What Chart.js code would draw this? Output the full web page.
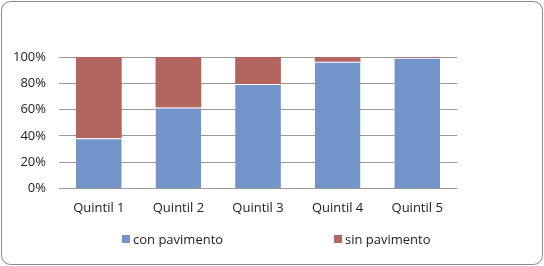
<!DOCTYPE html>
<html>
<head>
<meta charset="utf-8">
<script src="https://cdn.jsdelivr.net/npm/chart.js@4"></script>
<style>
  body { margin: 0; background: #fff; }
  #wrap { width: 544px; height: 266px; position: relative; }
</style>
</head>
<body>
<div id="wrap"><canvas id="grafico"></canvas></div>
<script>
// datos (porcentaje de hogares)
const quintiles = ['Quintil 1', 'Quintil 2', 'Quintil 3', 'Quintil 4', 'Quintil 5'];
const conPavimento = [38.2, 61.5, 79.5, 96.4, 99.5];
const sinPavimento = [61.8, 38.5, 20.5, 3.6, 0.5];
const series = ['con pavimento', 'sin pavimento'];
const colores = ['#7294C8', '#B5655F'];

const fuente = "'Open Sans', 'Liberation Sans', sans-serif";

// marco redondeado del grafico
const marco = {
    id: 'marco',
    beforeDraw(chart) {
        const ctx = chart.ctx;
        ctx.save();
        ctx.fillStyle = '#fff';
        ctx.fillRect(0, 0, chart.width, chart.height);
        ctx.strokeStyle = '#8a8a8a';
        ctx.lineWidth = 1;
        ctx.beginPath();
        ctx.roundRect(1.5, 1.5, chart.width - 3, chart.height - 3, 9);
        ctx.stroke();
        ctx.restore();
    }
};

// leyenda propia, con la separacion amplia del original
const leyenda = {
    id: 'leyenda',
    afterDraw(chart) {
        const ctx = chart.ctx;
        const posX = [122, 334];
        const y = 240;
        ctx.save();
        ctx.font = '13px ' + fuente;
        ctx.textBaseline = 'middle';
        chart.data.datasets.forEach((ds, i) => {
            ctx.fillStyle = ds.backgroundColor;
            ctx.fillRect(posX[i], y - 5, 8, 8);
            ctx.fillStyle = '#222';
            ctx.fillText(ds.label, posX[i] + 11, y);
        });
        ctx.restore();
    }
};

const ctx = document.getElementById('grafico').getContext('2d');
new Chart(ctx, {
    type: 'bar',
    data: {
        labels: quintiles,
        datasets: [{
            label: series[0],
            data: conPavimento,
            backgroundColor: colores[0],
            borderColor: '#fff',
            borderWidth: { top: 1, left: 0, right: 0, bottom: 0 },
            borderSkipped: 'start',
            categoryPercentage: 1,
            barPercentage: 0.575
        }, {
            label: series[1],
            data: sinPavimento,
            backgroundColor: colores[1],
            borderWidth: 0,
            categoryPercentage: 1,
            barPercentage: 0.575
        }]
    },
    options: {
        responsive: true,
        maintainAspectRatio: false,
        animation: false,
        layout: {
            padding: { top: 57, left: 0, right: 87, bottom: 46 }
        },
        plugins: {
            legend: { display: false },
            tooltip: { enabled: false }
        },
        scales: {
            x: {
                stacked: true,
                grid: { display: false },
                border: { display: false },
                ticks: {
                    color: '#222',
                    padding: 4,
                    font: { family: fuente, size: 13 }
                }
            },
            y: {
                stacked: true,
                min: 0,
                max: 100,
                border: { display: false },
                grid: { color: '#999', lineWidth: 1, drawTicks: false },
                ticks: {
                    stepSize: 20,
                    padding: 13,
                    color: '#222',
                    font: { family: fuente, size: 13 },
                    callback: (v) => v + '%'
                }
            }
        }
    },
    plugins: [marco, leyenda]
});
</script>
</body>
</html>
